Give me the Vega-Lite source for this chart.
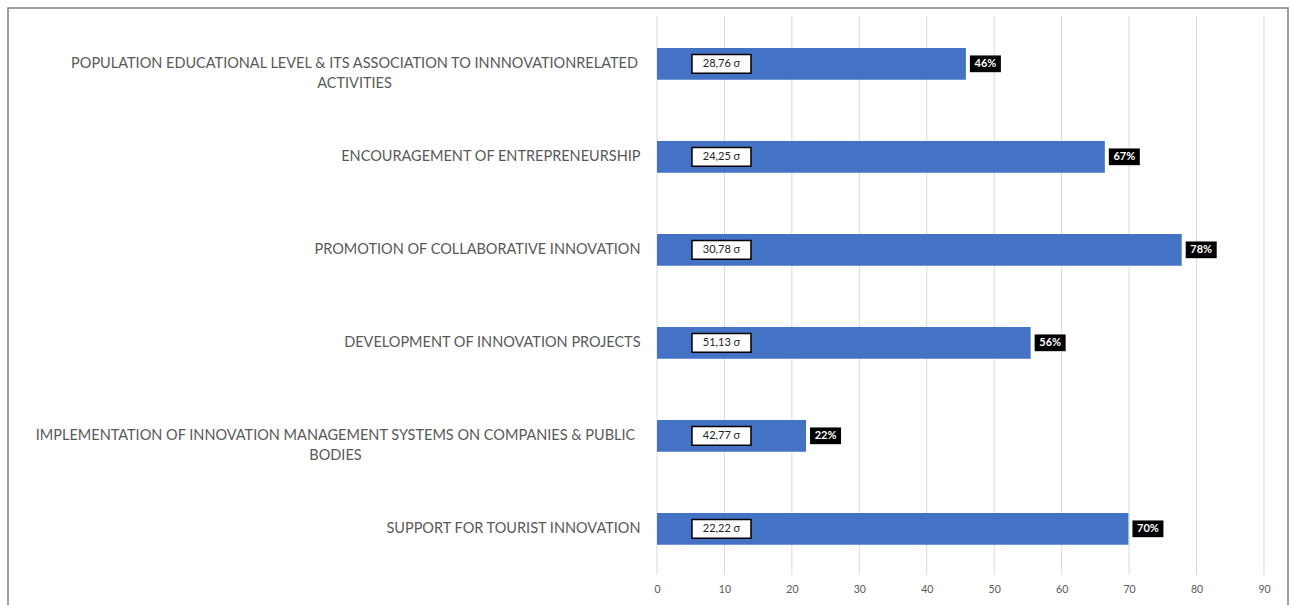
{
  "$schema": "https://vega.github.io/schema/vega-lite/v6.json",
  "autosize": "none",
  "width": 1280,
  "height": 600,
  "padding": {"left": 8, "top": 8, "right": 3, "bottom": 0},
  "background": "white",
  "config": {"view": {"stroke": "#808080", "strokeWidth": 1.5}, "font": "Lato"},
  "datasets": {
    "bars": [
      {"item": "POPULATION EDUCATIONAL LEVEL & ITS ASSOCIATION TO INNNOVATIONRELATED|ACTIVITIES", "value": 45.8, "sd": "28,76 σ", "pct": "46%"},
      {"item": "ENCOURAGEMENT OF ENTREPRENEURSHIP", "value": 66.4, "sd": "24,25 σ", "pct": "67%"},
      {"item": "PROMOTION OF COLLABORATIVE INNOVATION", "value": 77.8, "sd": "30,78 σ", "pct": "78%"},
      {"item": "DEVELOPMENT OF INNOVATION PROJECTS", "value": 55.4, "sd": "51,13 σ", "pct": "56%"},
      {"item": "IMPLEMENTATION OF INNOVATION MANAGEMENT SYSTEMS ON COMPANIES & PUBLIC|BODIES", "value": 22.1, "sd": "42,77 σ", "pct": "22%"},
      {"item": "SUPPORT FOR TOURIST INNOVATION", "value": 69.9, "sd": "22,22 σ", "pct": "70%"}
    ],
    "grid": [
      {"g": 0}, {"g": 10}, {"g": 20}, {"g": 30}, {"g": 40},
      {"g": 50}, {"g": 60}, {"g": 70}, {"g": 80}, {"g": 90}
    ]
  },
  "data": {"name": "bars"},
  "layer": [
    {
      "data": {"name": "grid"},
      "mark": {"type": "rule", "color": "#d9d9d9", "strokeWidth": 1, "yOffset": -48, "y2Offset": 46},
      "encoding": {
        "x": {
          "field": "g", "type": "quantitative", "title": null,
          "scale": {"domain": [-96.23, 93.56], "nice": false, "zero": false},
          "axis": {
            "values": [0, 10, 20, 30, 40, 50, 60, 70, 80, 90],
            "domain": false, "ticks": false, "grid": false,
            "offset": -31,
            "labelFont": "Lato", "labelFontSize": 10.5, "labelColor": "#595959",
            "labelPadding": 7
          }
        },
        "y": {"datum": "POPULATION EDUCATIONAL LEVEL & ITS ASSOCIATION TO INNNOVATIONRELATED|ACTIVITIES", "type": "nominal"},
        "y2": {"datum": "SUPPORT FOR TOURIST INNOVATION"}
      }
    },
    {
      "mark": {"type": "bar", "color": "#4472C4"},
      "encoding": {
        "x": {"field": "value", "type": "quantitative"},
        "y": {
          "field": "item", "type": "nominal", "sort": null, "title": null,
          "scale": {
            "domain": [
              "POPULATION EDUCATIONAL LEVEL & ITS ASSOCIATION TO INNNOVATIONRELATED|ACTIVITIES",
              "ENCOURAGEMENT OF ENTREPRENEURSHIP",
              "PROMOTION OF COLLABORATIVE INNOVATION",
              "DEVELOPMENT OF INNOVATION PROJECTS",
              "IMPLEMENTATION OF INNOVATION MANAGEMENT SYSTEMS ON COMPANIES & PUBLIC|BODIES",
              "SUPPORT FOR TOURIST INNOVATION"
            ],
            "paddingInner": 0.66, "paddingOuter": 0.5558, "align": 0.387
          },
          "axis": {
            "ticks": false, "domain": false, "grid": false,
            "offset": -632,
            "labelExpr": "split(datum.label, '|')",
            "labelFont": "Lato", "labelFontSize": 14.5, "labelColor": "#595959",
            "labelLineHeight": 20, "labelLimit": 800,
            "labelAlign": {"condition": {"test": "indexof(datum.value, '|') >= 0", "value": "center"}, "value": "right"},
            "labelPadding": {"condition": [
              {"test": "indexof(datum.value, 'POPULATION') >= 0", "value": 286},
              {"test": "indexof(datum.value, 'IMPLEMENTATION') >= 0", "value": 305}
            ], "value": 0}
          }
        }
      }
    },
    {
      "mark": {"type": "point", "shape": "M-1,-0.32 L1,-0.32 L1,0.32 L-1,0.32 Z", "size": 3481, "filled": true, "fill": "white", "stroke": "black", "strokeWidth": 1.5, "opacity": 1},
      "encoding": {"x": {"datum": 9.56, "type": "quantitative"}, "y": {"field": "item", "type": "nominal", "sort": null}}
    },
    {
      "mark": {"type": "text", "font": "Lato", "fontSize": 11, "color": "#222222", "align": "center", "baseline": "middle"},
      "encoding": {"x": {"datum": 9.56, "type": "quantitative"}, "y": {"field": "item", "type": "nominal", "sort": null}, "text": {"field": "sd"}}
    },
    {
      "mark": {"type": "point", "shape": "M-1,-0.54 L1,-0.54 L1,0.54 L-1,0.54 Z", "size": 961, "filled": true, "color": "black", "opacity": 1, "xOffset": 19.5},
      "encoding": {"x": {"field": "value", "type": "quantitative"}, "y": {"field": "item", "type": "nominal", "sort": null}}
    },
    {
      "mark": {"type": "text", "font": "Lato", "fontSize": 11, "fontWeight": "bold", "color": "white", "align": "center", "baseline": "middle", "dx": 19.5},
      "encoding": {"x": {"field": "value", "type": "quantitative"}, "y": {"field": "item", "type": "nominal", "sort": null}, "text": {"field": "pct"}}
    }
  ]
}
